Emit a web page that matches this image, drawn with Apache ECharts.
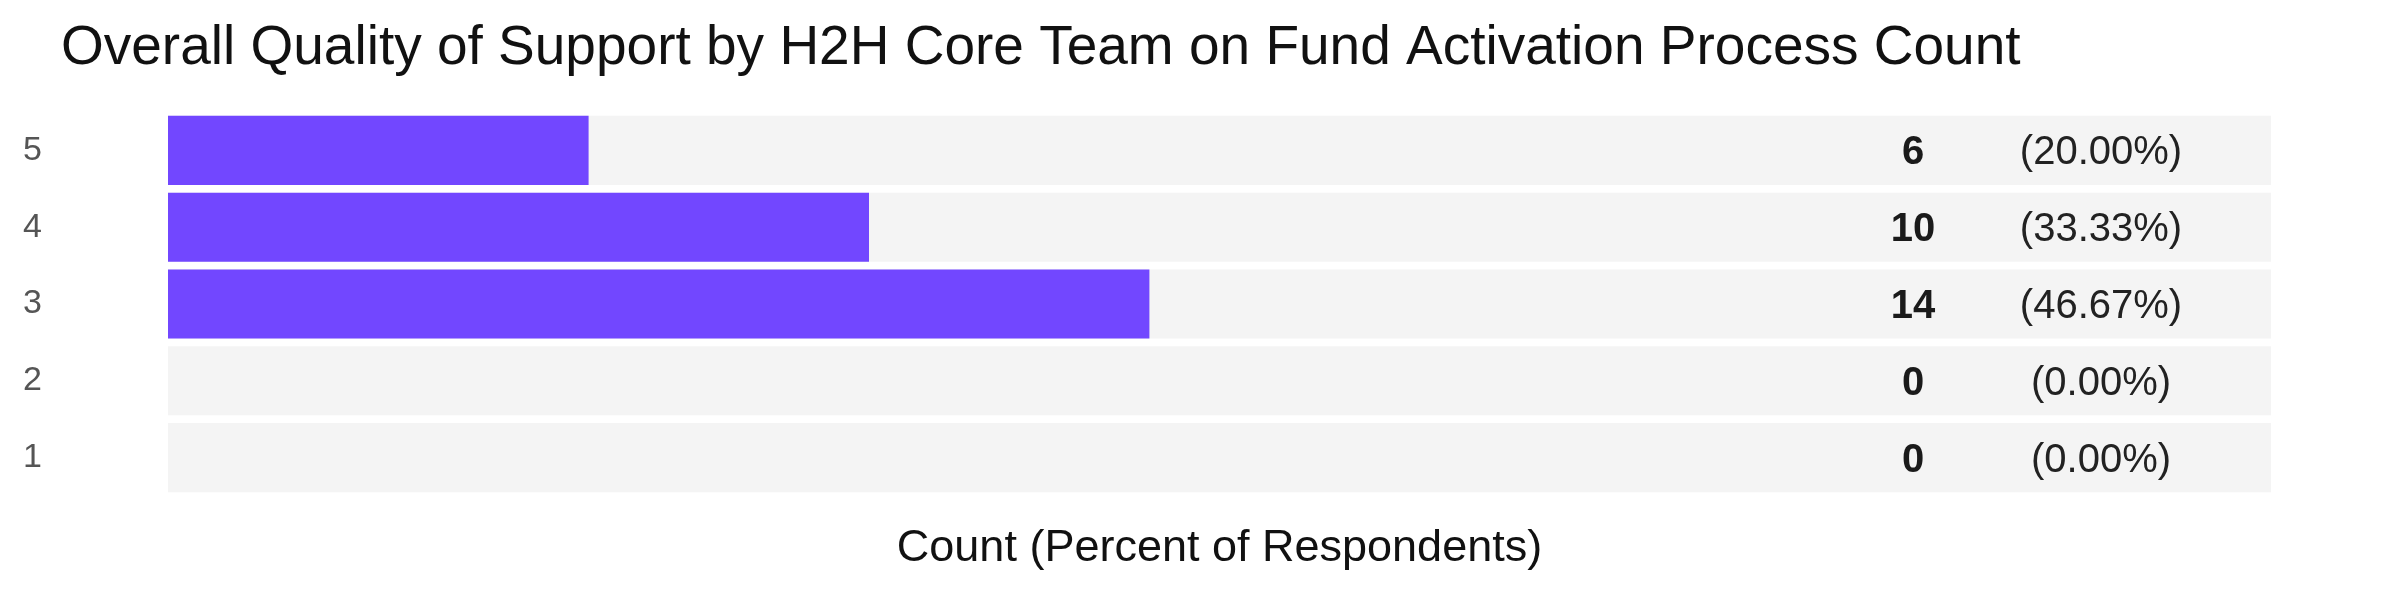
<!DOCTYPE html>
<html><head><meta charset="utf-8">
<script src="https://cdn.jsdelivr.net/npm/echarts@6/dist/echarts.min.js"></script>
<style>html,body{margin:0;padding:0;background:#fff}#c{width:2399px;height:599px}</style>
</head><body><div id="c"></div>
<script>
const titleText = 'Overall Quality of Support by H2H Core Team on Fund Activation Process Count';
const axisTitle = 'Count (Percent of Respondents)';
const categories = ['1', '2', '3', '4', '5'];
const counts = [0, 0, 14, 10, 6];

const total = counts.reduce((a, b) => a + b, 0);
const trackData = counts.map(() => total);
const font = '"Liberation Sans", Arial, Helvetica, sans-serif';

const chart = echarts.init(document.getElementById('c'));
chart.setOption({
  animation: false,
  title: {
    text: titleText, left: 56, top: 16,
    textStyle: { fontFamily: font, fontSize: 55, fontWeight: 'normal', color: '#111' }
  },
  grid: { left: 168, right: 128, top: 112, bottom: 103 },
  xAxis: {
    type: 'value', min: 0, max: total,
    name: axisTitle, nameLocation: 'middle', nameGap: 30,
    nameTextStyle: { fontFamily: font, fontSize: 45, color: '#111' },
    axisLine: { show: false }, axisTick: { show: false }, axisLabel: { show: false }, splitLine: { show: false }
  },
  yAxis: {
    type: 'category', data: categories,
    axisLine: { show: false }, axisTick: { show: false }, splitLine: { show: false },
    axisLabel: { margin: 126, fontFamily: font, fontSize: 34, color: '#555', padding: [6, 0, 0, 0] }
  },
  series: [
    {
      type: 'bar', data: trackData, barWidth: '90%', barGap: '-100%',
      itemStyle: { color: '#f4f4f4' }, silent: true,
      label: {
        show: true, position: 'insideRight', distance: 42, offset: [0, 3],
        formatter: (p) => {
          const c = counts[p.dataIndex];
          return '{c|' + c + '}{p|(' + (c / total * 100).toFixed(2) + '%)}';
        },
        rich: {
          c: { width: 120, align: 'center', fontFamily: font, fontSize: 40, fontWeight: 'bold', color: '#1a1a1a' },
          p: { width: 256, align: 'center', fontFamily: font, fontSize: 40, color: '#222' }
        }
      }
    },
    {
      type: 'bar', data: counts, barWidth: '90%', barGap: '-100%',
      itemStyle: { color: '#7247ff' }
    }
  ]
});
</script></body></html>
